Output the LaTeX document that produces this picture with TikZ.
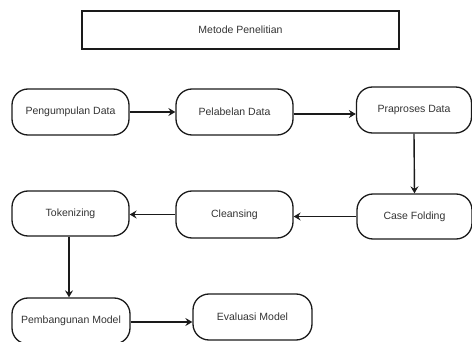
\documentclass[tikz,border=0pt]{standalone}
\usepackage{fontspec}
\setmainfont{Liberation Sans}
\usetikzlibrary{arrows.meta}
\definecolor{txt}{HTML}{333333}
\definecolor{ln}{HTML}{1A1A1A}
\tikzset{
  stepbox/.style={draw=ln, line width=1.3pt, rounded corners=16pt, minimum width=117pt, minimum height=46pt, inner sep=0pt, text=txt, font=\fontsize{10.5}{12}\selectfont},
  titlebox/.style={draw=ln, line width=1.3pt, minimum width=317pt, minimum height=38pt, inner sep=0pt, text=txt, font=\fontsize{10.5}{12}\selectfont},
  flow/.style={draw=ln, line width=1.4pt, -{Stealth[length=7pt,width=8pt,inset=2.5pt]}}
}
\begin{document}
\begin{tikzpicture}[x=1pt,y=-1pt]
\useasboundingbox (0,0) rectangle (472,342);
\clip (0,0) rectangle (472,342);
\node[titlebox] (title) at (240.5,30) {Metode Penelitian};
\node[stepbox] (peng) at (70.5,112) {Pengumpulan Data};
\node[stepbox] (pelab) at (234.5,112) {Pelabelan Data};
\node[stepbox, minimum width=115pt] (prap) at (414,110) {Praproses Data};
\node[stepbox, minimum width=115pt, minimum height=45pt] (case) at (414.5,216.5) {Case Folding};
\node[stepbox, minimum height=47pt] (clean) at (234.5,214.5) {Cleansing};
\node[stepbox, minimum height=45pt] (token) at (70.5,213.5) {Tokenizing};
\node[stepbox, minimum width=118pt] (pemb) at (71,321) {Pembangunan Model};
\node[stepbox, minimum width=119pt] (eval) at (252.5,317) {Evaluasi Model};
\draw[flow] (peng.east) -- (pelab.west);
\draw[flow] ([yshift=-2pt]pelab.east) -- ([yshift=-2pt]pelab.east -| prap.west);
\draw[flow] (prap.south) -- (case.north);
\draw[flow] (case.west) -- (case.west -| clean.east);
\draw[flow] (clean.west) -- (clean.west -| token.east);
\draw[flow] ([xshift=-1.5pt]token.south) -- ([xshift=-1.5pt]token.south |- pemb.north);
\draw[flow] ([yshift=-1pt]pemb.east) -- ([yshift=-1pt]pemb.east -| eval.west);
\end{tikzpicture}
\end{document}
